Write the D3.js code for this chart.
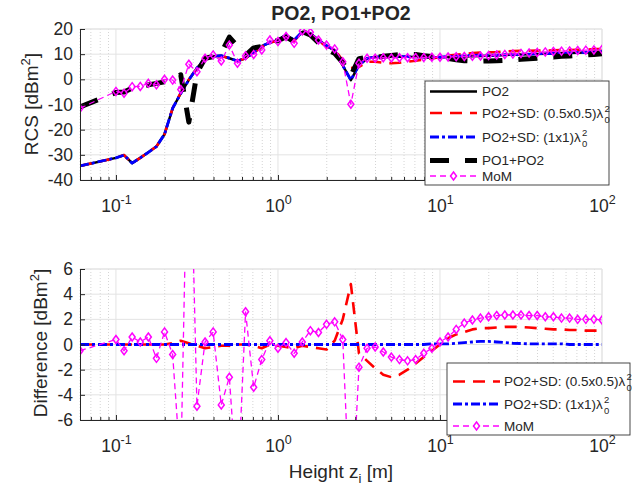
<!DOCTYPE html>
<html><head><meta charset="utf-8">
<script src="https://cdn.jsdelivr.net/npm/d3@7"></script>
<style>
body{margin:0;background:#fff}
text{font-family:Arial,"Liberation Sans",sans-serif;fill:#262626}
</style>
</head><body>
<svg id="c" width="641" height="491"></svg>
<script>
// ---------- DATA ----------
const zGrid=[0.06,0.1,0.1122,0.1259,0.1413,0.1585,0.1778,0.1995,0.2239,0.2512,0.2818,0.3162,0.3548,0.3981,0.4467,0.5012,0.5623,0.631,0.7079,0.7943,0.8913,1.0,1.122,1.259,1.413,1.585,1.778,1.995,2.239,2.512,2.818,3.162,3.548,3.981,4.467,5.012,5.623,6.31,7.079,7.943,8.913,10,11.22,12.59,14.13,15.85,17.78,19.95,22.39,25.12,28.18,31.62,35.48,39.81,44.67,50.12,56.23,63.1,70.79,79.43,89.13,100];

const po2=[-34.4,-31.2,-30.1,-33.3,-31.2,-29.0,-26.7,-21.8,-11.5,-5.6,-0.2,4.5,8.2,9.2,9.4,8.4,7.3,8.4,10.6,13.2,14.6,15.5,17.6,15.6,18.9,18.2,15.6,13.4,11.5,5.5,-0.3,5.6,8.3,8.9,9.0,9.0,9.0,9.0,8.9,8.9,8.8,8.8,8.9,9.0,9.1,9.2,9.3,9.4,9.5,9.7,9.8,9.9,10.0,10.1,10.2,10.3,10.4,10.5,10.6,10.7,10.9,11.0];

const sdHalf=[-34.4,-31.2,-30.1,-33.3,-31.2,-29.0,-26.7,-21.8,-11.4,-5.3,-0.1,4.4,7.9,9.0,9.3,8.3,7.3,8.4,10.5,12.9,14.6,15.4,17.4,15.3,18.8,18.0,15.3,13.0,11.8,7.5,4.5,4.9,7.0,7.0,6.6,6.4,6.6,7.0,7.4,7.9,8.3,8.8,9.4,9.8,10.1,10.4,10.6,10.7,10.85,11.1,11.2,11.3,11.35,11.4,11.45,11.5,11.6,11.65,11.75,11.8,12.0,12.1];

const sd1x1=[-34.4,-31.2,-30.1,-33.3,-31.2,-29.0,-26.7,-21.8,-11.5,-5.6,-0.2,4.5,8.2,9.2,9.4,8.4,7.3,8.4,10.6,13.2,14.6,15.5,17.6,15.6,18.9,18.2,15.6,13.4,11.5,5.5,-0.3,5.6,8.3,8.9,9.0,9.0,9.0,9.0,8.9,8.9,8.85,8.85,9.0,9.15,9.35,9.5,9.6,9.6,9.65,9.8,9.88,9.98,10.05,10.15,10.25,10.35,10.4,10.5,10.6,10.7,10.9,11.0];

const po1po2=[-11.0,-5.2,-5.0,-3.5,-3.0,-2.2,-1.6,-1.0,0.0,1.8,-17.0,2.5,8.4,9.0,10.5,16.8,13.2,9.5,12.5,13.0,15.0,15.3,16.9,15.0,19.0,17.6,14.6,12.0,10.3,6.6,1.5,8.2,8.7,8.6,9.2,9.5,9.8,9.9,9.9,9.4,9.1,8.6,8.3,7.8,7.4,7.25,7.2,7.3,7.4,7.55,7.75,7.95,8.2,8.4,8.7,8.9,9.2,9.3,9.6,9.7,9.9,10.15];

const mom=[-11.5,-4.8,-5.5,-2.9,-2.8,-1.6,-2.2,0.0,-0.3,-4.0,6.0,3.0,8.4,9.7,7.3,13.6,6.4,9.4,9.9,11.7,15.6,15.0,17.0,14.3,19.2,18.7,15.6,13.6,12.1,7.0,-9.9,6.4,8.4,8.4,8.6,8.5,8.6,8.6,8.7,8.7,8.8,8.8,8.9,9.0,9.1,9.2,9.3,9.5,9.7,9.9,10.1,10.3,10.5,10.7,10.9,11.1,11.2,11.3,11.5,11.6,11.7,11.9];

const diffHalf=[0,0,0,0,0,0,0,0,0.1,0.3,0.1,-0.1,-0.3,-0.2,-0.1,-0.1,0,0,-0.1,-0.3,0,-0.1,-0.2,-0.3,-0.1,-0.2,-0.3,-0.4,0.3,2.0,4.8,-0.7,-1.3,-1.9,-2.4,-2.6,-2.4,-2.0,-1.5,-1.0,-0.5,0,0.5,0.8,1.0,1.2,1.3,1.3,1.35,1.4,1.4,1.4,1.35,1.3,1.25,1.2,1.2,1.15,1.15,1.1,1.1,1.1];

const diff1x1=[0,0,0,0,0,0,0,0,0,0,0,0,0,0,0,0,0,0,0,0,0,0,0,0,0,0,0,0,0,0,0,0,0,0,0,0,0,0,0,0,0.05,0.05,0.05,0.1,0.15,0.2,0.25,0.25,0.2,0.15,0.1,0.08,0.05,0.05,0.05,0.05,0.05,0,0,0,0,0];

const diffMom=[-0.5,0.4,-0.5,0.6,0.2,0.6,-1.1,1.0,-0.8,-10,22,-4.9,0.2,1.0,-4.8,-2.6,-12,2.6,-3.4,-1.2,0.3,-0.3,0.15,-0.7,0.2,1.1,0.95,1.6,1.8,0.4,-14.5,-1.8,-0.3,-0.2,-0.6,-1.0,-1.2,-1.3,-1.2,-0.7,-0.3,0.2,0.6,1.2,1.7,1.95,2.1,2.2,2.3,2.35,2.35,2.35,2.3,2.3,2.2,2.2,2.1,2.1,2.0,2.0,2.0,1.95];

const xDecades=[0.1,1,10,100];
const xTickExp=["-1","0","1","2"];
const topYTicks=[-40,-30,-20,-10,0,10,20];
const botYTicks=[-6,-4,-2,0,2,4,6];
const titleText="PO2, PO1+PO2";

// ---------- LAYOUT ----------
const svg=d3.select('#c');
const X0=80, X1=602;
const x=d3.scaleLog().domain([0.06,100]).range([X0,X1]);
const minorX=[];
[0.01,0.1,1,10].forEach(d=>{for(let m=2;m<=9;m++){const v=+(m*d).toPrecision(3); if(v>=0.06&&v<=100) minorX.push(v);}});

const axisCol='#262626', gridCol='#e3e3e3', minorCol='#c9c9c9';
const TF=17.5;

function panel(yDom, yTop, yBot, yTicks, id){
  const y=d3.scaleLinear().domain(yDom).range([yBot,yTop]);
  const g=svg.append('g');
  svg.append('clipPath').attr('id',id).append('rect')
     .attr('x',X0).attr('y',yTop).attr('width',X1-X0).attr('height',yBot-yTop);
  g.append('g').selectAll('line').data(minorX).join('line')
    .attr('x1',d=>x(d)).attr('x2',d=>x(d)).attr('y1',yTop).attr('y2',yBot)
    .attr('stroke',minorCol).attr('stroke-width',0.8).attr('stroke-dasharray','1,2');
  g.append('g').selectAll('line').data(xDecades).join('line')
    .attr('x1',d=>x(d)).attr('x2',d=>x(d)).attr('y1',yTop).attr('y2',yBot)
    .attr('stroke',gridCol).attr('stroke-width',1);
  g.append('g').selectAll('line').data(yTicks).join('line')
    .attr('x1',X0).attr('x2',X1).attr('y1',d=>y(d)).attr('y2',d=>y(d))
    .attr('stroke',gridCol).attr('stroke-width',1);
  g.append('line').attr('x1',X0).attr('x2',X1).attr('y1',yTop).attr('y2',yTop).attr('stroke',gridCol);
  g.append('line').attr('x1',X1).attr('x2',X1).attr('y1',yTop).attr('y2',yBot).attr('stroke',gridCol);
  const plot=svg.append('g').attr('clip-path',`url(#${id})`);
  const axes=svg.append('g');
  const ya=axes.append('g').attr('transform',`translate(${X0},0)`)
    .call(d3.axisLeft(y).tickValues(yTicks).tickSizeInner(-5).tickSizeOuter(0).tickPadding(7).tickFormat(d3.format('d')));
  ya.select('.domain').attr('stroke',axisCol);
  ya.selectAll('.tick line').attr('stroke',axisCol);
  ya.selectAll('.tick text').attr('font-size',TF).attr('fill',axisCol).style('font-family','Arial, "Liberation Sans", sans-serif')
    .text(d=>d<0?'-'+Math.abs(d):d);
  const xm=axes.append('g').attr('transform',`translate(0,${yBot})`)
    .call(d3.axisBottom(x).tickValues(minorX).tickSizeInner(-3).tickSizeOuter(0).tickFormat(''));
  xm.select('.domain').remove();
  xm.selectAll('.tick line').attr('stroke',axisCol);
  const xa=axes.append('g').attr('transform',`translate(0,${yBot})`)
    .call(d3.axisBottom(x).tickValues(xDecades).tickSizeInner(-5).tickSizeOuter(0).tickFormat(''));
  xa.select('.domain').attr('stroke',axisCol);
  xa.selectAll('.tick line').attr('stroke',axisCol);
  xa.selectAll('.tick text').each(function(d,i){
    const t=d3.select(this).attr('y',31.5).attr('dy',0).attr('font-size',TF).attr('fill',axisCol)
      .style('font-family','Arial, "Liberation Sans", sans-serif').attr('text-anchor','middle');
    t.text(null);
    t.append('tspan').text('10');
    t.append('tspan').attr('dy',-8).attr('font-size',12.5).text(xTickExp[i]);
  });
  return {y,plot};
}

function drawLine(plot,y,vals,col,w,dash){
  const pts=zGrid.map((z,i)=>[z,vals[i]]);
  plot.append('path').datum(pts)
    .attr('d',d3.line().x(d=>x(d[0])).y(d=>y(d[1])))
    .attr('fill','none').attr('stroke',col).attr('stroke-width',w)
    .attr('stroke-dasharray',dash||null).attr('stroke-linejoin','round');
}
const diamond="M0,-4L3,0L0,4L-3,0Z";
function drawMoM(plot,y,vals){
  drawLine(plot,y,vals,'#ff00ff',1.3,'6,4');
  plot.append('g').selectAll('path').data(zGrid.map((z,i)=>[z,vals[i]])).join('path')
    .attr('d',diamond).attr('transform',d=>`translate(${x(d[0])},${y(d[1])})`)
    .attr('fill','none').attr('stroke','#ff00ff').attr('stroke-width',1.5);
}

// ---------- TOP PANEL ----------
const T=panel([-40,20],29,180,topYTicks,'clipTop');
drawLine(T.plot,T.y,po2,'#000',2.5);
drawLine(T.plot,T.y,sdHalf,'#ff0000',2.6,'12,8');
drawLine(T.plot,T.y,sd1x1,'#0000ff',2.8,'9,3,3,3');
drawLine(T.plot,T.y,po1po2,'#000',5,'19,16');
drawMoM(T.plot,T.y,mom);

// ---------- BOTTOM PANEL ----------
const B=panel([-6,6],269,420,botYTicks,'clipBot');
drawLine(B.plot,B.y,diffHalf,'#ff0000',2.6,'12,8');
drawLine(B.plot,B.y,diff1x1,'#0000ff',2.8,'9,3,3,3');
drawMoM(B.plot,B.y,diffMom);

// ---------- TEXT ----------
svg.append('text').attr('x',341).attr('y',20).attr('text-anchor','middle')
  .attr('font-size',19.5).attr('font-weight','bold').attr('fill','#000').text(titleText);

function yLabel(cx,cy,main){
  const t=svg.append('text').attr('transform',`translate(${cx},${cy}) rotate(-90)`)
    .attr('text-anchor','middle').attr('font-size',19);
  t.append('tspan').text(main);
  t.append('tspan').attr('dy',-8).attr('font-size',13).text('2');
  t.append('tspan').attr('dy',8).text(']');
}
yLabel(38,104,'RCS [dBm');
yLabel(47,343,'Difference [dBm');

const xl=svg.append('text').attr('x',341).attr('y',478).attr('text-anchor','middle').attr('font-size',19);
xl.append('tspan').text('Height z');
xl.append('tspan').attr('dy',5).attr('font-size',13).text('i');
xl.append('tspan').attr('dy',-5).text(' [m]');

// ---------- LEGENDS ----------
const LF=13.5;
function legendEntry(g,x0,x1,tx,cy,style,label,lambda){
  if(style.type==='mom'){
    g.append('line').attr('x1',x0).attr('x2',x1).attr('y1',cy).attr('y2',cy)
      .attr('stroke','#ff00ff').attr('stroke-width',1.3).attr('stroke-dasharray','6,4');
    g.append('path').attr('d',diamond).attr('transform',`translate(${(x0+x1)/2},${cy})`)
      .attr('fill','#fff').attr('stroke','#ff00ff').attr('stroke-width',1.5);
  } else {
    g.append('line').attr('x1',x0).attr('x2',x1).attr('y1',cy).attr('y2',cy)
      .attr('stroke',style.col).attr('stroke-width',style.w).attr('stroke-dasharray',style.dash||null);
  }
  const t=g.append('text').attr('x',tx).attr('y',cy+4.8).attr('font-size',LF).attr('fill','#000').text(label);
  if(lambda){
    const w=t.node().getComputedTextLength();
    g.append('text').attr('x',tx+w).attr('y',cy+4.8).attr('font-size',LF).attr('fill','#000').text('λ');
    g.append('text').attr('x',tx+w+8).attr('y',cy-1.5).attr('font-size',9.5).attr('fill','#000').text('2');
    g.append('text').attr('x',tx+w+8).attr('y',cy+9.8).attr('font-size',9.5).attr('fill','#000').text('0');
  }
}
const sPO2={col:'#000',w:2.5}, sHalf={col:'#ff0000',w:2.6,dash:'12,8'}, s1x1={col:'#0000ff',w:2.8,dash:'9,3,3,3'},
      sPO12={col:'#000',w:5,dash:'19,16'}, sMoM={type:'mom'};
const L1=svg.append('g');
L1.append('rect').attr('x',425).attr('y',81).attr('width',184).attr('height',104)
  .attr('fill','#fff').attr('stroke','#333').attr('stroke-width',0.9);
legendEntry(L1,430,477,482,91.5,sPO2,'PO2');
legendEntry(L1,430,477,482,113,sHalf,'PO2+SD: (0.5x0.5)',true);
legendEntry(L1,430,477,482,137,s1x1,'PO2+SD: (1x1)',true);
legendEntry(L1,430,477,482,160.5,sPO12,'PO1+PO2');
legendEntry(L1,430,477,482,176,sMoM,'MoM');

const L2=svg.append('g');
L2.append('rect').attr('x',447).attr('y',363).attr('width',183).attr('height',72)
  .attr('fill','#fff').attr('stroke','#333').attr('stroke-width',0.9);
legendEntry(L2,453,500,504,381.5,sHalf,'PO2+SD: (0.5x0.5)',true);
legendEntry(L2,453,500,504,404,s1x1,'PO2+SD: (1x1)',true);
legendEntry(L2,453,500,504,426,sMoM,'MoM');
</script>
</body></html>
